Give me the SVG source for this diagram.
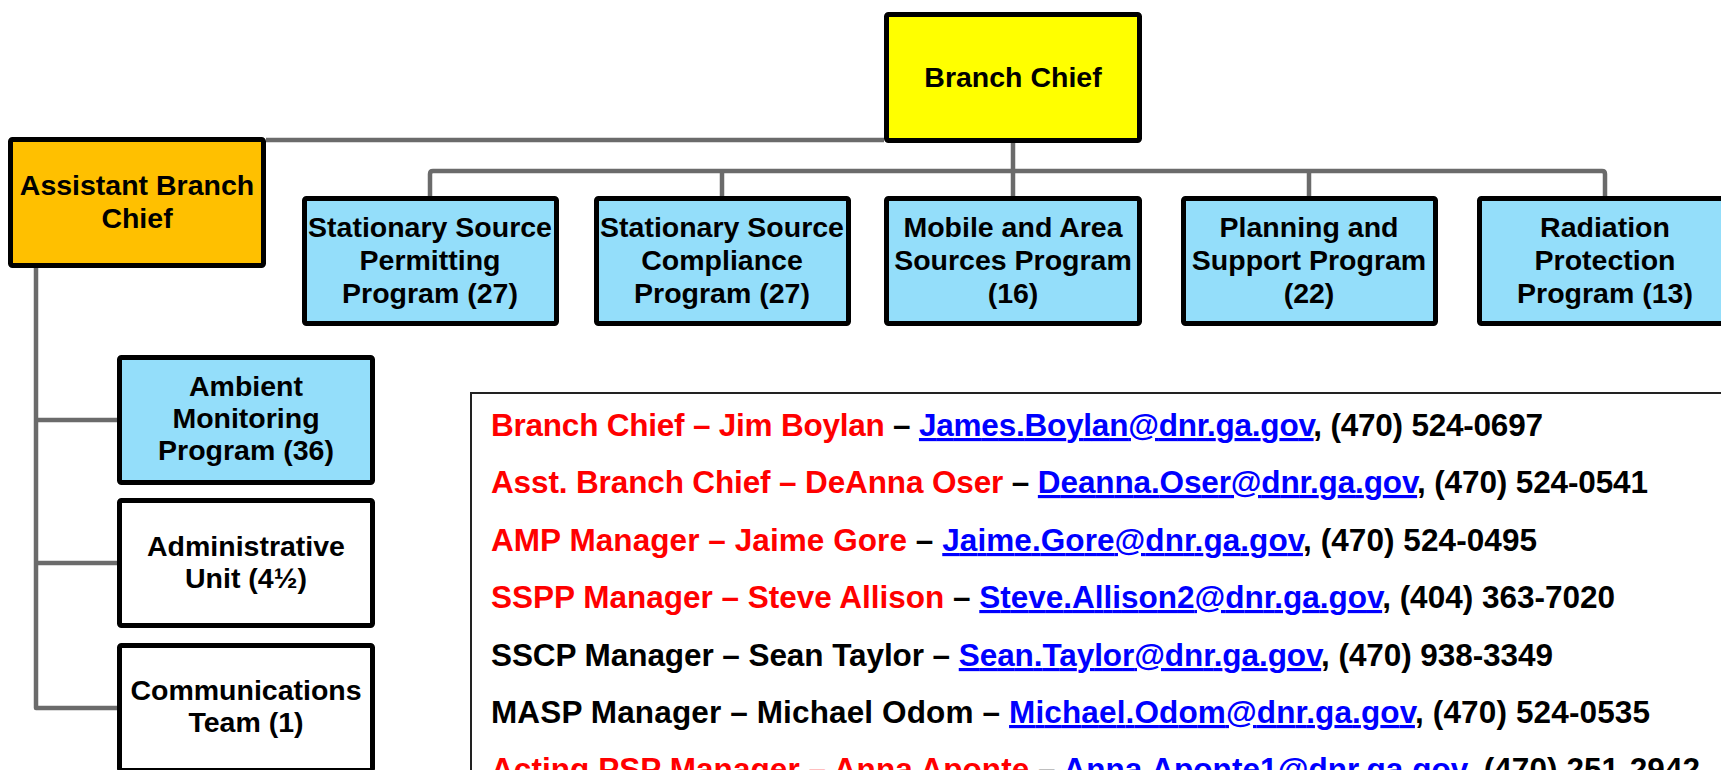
<svg xmlns="http://www.w3.org/2000/svg" width="1721" height="770" viewBox="0 0 1721 770">
  <style>
    .box { stroke: #000; stroke-width: 5; stroke-linejoin: round; }
    .yellow { fill: #FFFF00; }
    .orange { fill: #FFC000; }
    .blue { fill: #94DEFA; }
    .white { fill: #FFFFFF; }
    .label { font-family: "Liberation Sans", Arial, sans-serif; font-weight: bold; font-size: 28.5px; fill: #000; text-anchor: middle; }
    .wire { fill: none; stroke: #6B6B6B; stroke-width: 4.5; stroke-linejoin: round; }
    .contact { font-family: "Liberation Sans", Arial, sans-serif; font-weight: bold; font-size: 31.5px; fill: #000; }
    .red { fill: #FF0000; }
    .link { fill: #0000FF; text-decoration: underline; }
  </style>

  <rect width="1721" height="770" fill="#FFFFFF"/>

  <!-- connectors -->
  <g id="connectors">
    <path class="wire" d="M266,140 H884"/>
    <path class="wire" d="M1013,143 V196"/>
    <path class="wire" d="M430,196 V174 Q430,171 433,171 H1602 Q1605,171 1605,174 V196"/>
    <path class="wire" d="M722,171 V196"/>
    <path class="wire" d="M1309,171 V196"/>
    <path class="wire" d="M36,268 V708 H117"/>
    <path class="wire" d="M36,420 H117"/>
    <path class="wire" d="M36,563 H117"/>
  </g>

  <!-- top level -->
  <g id="branch-chief">
    <rect class="box yellow" x="886.5" y="14.5" width="253" height="126" rx="2"/>
    <text class="label" x="1013" y="87">Branch Chief</text>
  </g>

  <g id="assistant-branch-chief">
    <rect class="box orange" x="10.5" y="139.5" width="253" height="126" rx="2"/>
    <text class="label" x="137" y="195">Assistant Branch</text>
    <text class="label" x="137" y="228">Chief</text>
  </g>

  <!-- programs -->
  <g id="sspp">
    <rect class="box blue" x="304.5" y="198.5" width="252" height="125" rx="2"/>
    <text class="label" x="430" y="237">Stationary Source</text>
    <text class="label" x="430" y="270">Permitting</text>
    <text class="label" x="430" y="303">Program (27)</text>
  </g>

  <g id="sscp">
    <rect class="box blue" x="596.5" y="198.5" width="252" height="125" rx="2"/>
    <text class="label" x="722" y="237">Stationary Source</text>
    <text class="label" x="722" y="270">Compliance</text>
    <text class="label" x="722" y="303">Program (27)</text>
  </g>

  <g id="masp">
    <rect class="box blue" x="886.5" y="198.5" width="253" height="125" rx="2"/>
    <text class="label" x="1013" y="237">Mobile and Area</text>
    <text class="label" x="1013" y="270">Sources Program</text>
    <text class="label" x="1013" y="303">(16)</text>
  </g>

  <g id="psp">
    <rect class="box blue" x="1183.5" y="198.5" width="252" height="125" rx="2"/>
    <text class="label" x="1309" y="237">Planning and</text>
    <text class="label" x="1309" y="270">Support Program</text>
    <text class="label" x="1309" y="303">(22)</text>
  </g>

  <g id="rpp">
    <rect class="box blue" x="1479.5" y="198.5" width="252" height="125" rx="2"/>
    <text class="label" x="1605" y="237">Radiation</text>
    <text class="label" x="1605" y="270">Protection</text>
    <text class="label" x="1605" y="303">Program (13)</text>
  </g>

  <!-- units under the assistant branch chief -->
  <g id="amp">
    <rect class="box blue" x="119.5" y="357.5" width="253" height="125" rx="2"/>
    <text class="label" x="246" y="396">Ambient</text>
    <text class="label" x="246" y="428">Monitoring</text>
    <text class="label" x="246" y="460">Program (36)</text>
  </g>

  <g id="admin-unit">
    <rect class="box white" x="119.5" y="500.5" width="253" height="125" rx="2"/>
    <text class="label" x="246" y="556">Administrative</text>
    <text class="label" x="246" y="588">Unit (4½)</text>
  </g>

  <g id="communications">
    <rect class="box white" x="119.5" y="645.5" width="253" height="125" rx="2"/>
    <text class="label" x="246" y="700">Communications</text>
    <text class="label" x="246" y="732">Team (1)</text>
  </g>

  <!-- contact list -->
  <g id="contacts">
    <rect x="471" y="393" width="1300" height="420" fill="#FFFFFF" stroke="#222" stroke-width="2"/>
    <text class="contact" x="491" y="436" textLength="1052" lengthAdjust="spacing"><tspan class="red">Branch Chief – Jim Boylan</tspan> – <tspan class="link">James.Boylan@dnr.ga.gov</tspan>, (470) 524-0697</text>
    <text class="contact" x="491" y="493" textLength="1157" lengthAdjust="spacing"><tspan class="red">Asst. Branch Chief – DeAnna Oser</tspan> – <tspan class="link">Deanna.Oser@dnr.ga.gov</tspan>, (470) 524-0541</text>
    <text class="contact" x="491" y="551" textLength="1046" lengthAdjust="spacing"><tspan class="red">AMP Manager – Jaime Gore</tspan> – <tspan class="link">Jaime.Gore@dnr.ga.gov</tspan>, (470) 524-0495</text>
    <text class="contact" x="491" y="608" textLength="1124" lengthAdjust="spacing"><tspan class="red">SSPP Manager – Steve Allison</tspan> – <tspan class="link">Steve.Allison2@dnr.ga.gov</tspan>, (404) 363-7020</text>
    <text class="contact" x="491" y="666" textLength="1062" lengthAdjust="spacing">SSCP Manager – Sean Taylor – <tspan class="link">Sean.Taylor@dnr.ga.gov</tspan>, (470) 938-3349</text>
    <text class="contact" x="491" y="723" textLength="1159" lengthAdjust="spacing">MASP Manager – Michael Odom – <tspan class="link">Michael.Odom@dnr.ga.gov</tspan>, (470) 524-0535</text>
    <text class="contact" x="491" y="780" textLength="1209" lengthAdjust="spacing"><tspan class="red">Acting PSP Manager – Anna Aponte</tspan> – <tspan class="link">Anna.Aponte1@dnr.ga.gov</tspan>, (470) 251-2942</text>
  </g>
</svg>
